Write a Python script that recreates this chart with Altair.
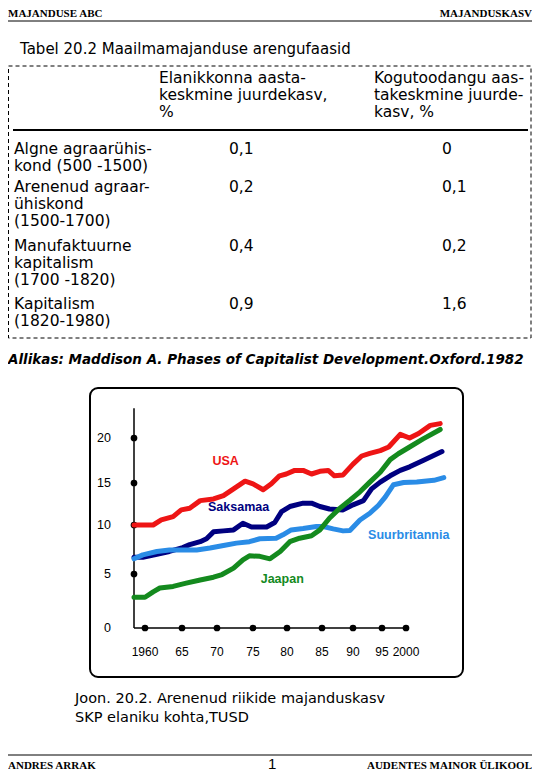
import altair as alt
import pandas as pd

# ---------------- texts ----------------
header_left = "MAJANDUSE ABC"
header_right = "MAJANDUSKASV"
table_title = "Tabel 20.2 Maailmamajanduse arengufaasid"
col_pop = "Elanikkonna aasta-\nkeskmine juurdekasv,\n%"
col_out = "Kogutoodangu aas-\ntakeskmine juurde-\nkasv, %"
source = "Allikas: Maddison A. Phases of Capitalist Development.Oxford.1982"
caption = "Joon. 20.2. Arenenud riikide majanduskasv\nSKP elaniku kohta,TUSD"
footer_left = "ANDRES ARRAK"
footer_mid = "1"
footer_right = "AUDENTES MAINOR ÜLIKOOL"

# ---------------- table data ----------------
phases = [
    "Algne agraarühis-\nkond (500 -1500)",
    "Arenenud agraar-\nühiskond\n(1500-1700)",
    "Manufaktuurne\nkapitalism\n(1700 -1820)",
    "Kapitalism\n(1820-1980)",
]
pop_growth = [0.1, 0.2, 0.4, 0.9]
output_growth = [0, 0.1, 0.2, 1.6]

# ---------------- chart data ----------------
usa_year = [1959.0, 1961.1, 1962.2, 1963.8, 1964.9, 1966.1, 1967.6, 1969.5, 1970.9, 1972.3,
            1973.9, 1975.0, 1976.5, 1977.7, 1978.9, 1979.9, 1981.1, 1982.3, 1983.5, 1984.7,
            1986.0, 1987.0, 1988.4, 1990.0, 1991.5, 1992.9, 1994.7, 1996.4, 1998.8, 2000.4,
            2001.4, 2002.7, 2003.8]
usa_val = [10.0, 10.0, 10.6, 11.0, 11.8, 12.0, 12.9, 13.1, 13.5, 14.3,
           15.2, 14.9, 14.2, 14.9, 15.8, 16.0, 16.4, 16.4, 16.0, 16.3,
           16.4, 15.8, 15.9, 17.1, 18.0, 18.3, 18.6, 19.0, 20.4, 20.0,
           20.5, 21.4, 21.6]

ger_year = [1959.0, 1959.8, 1961.6, 1963.3, 1965.1, 1966.1, 1967.6, 1968.5, 1969.5, 1970.9,
            1972.3, 1973.6, 1974.8, 1977.0, 1978.2, 1979.2, 1980.4, 1982.3, 1983.5, 1984.7,
            1986.2, 1988.4, 1990.0, 1991.8, 1993.2, 1994.7, 1996.7, 1998.8, 2000.4, 2001.9,
            2004.0]
ger_val = [6.7, 6.7, 7.0, 7.3, 7.7, 8.0, 8.3, 8.6, 9.3, 9.4,
           9.5, 10.2, 9.8, 9.8, 10.3, 11.6, 12.2, 12.6, 12.6, 12.2,
           11.9, 11.8, 12.4, 12.9, 14.3, 15.1, 15.8, 16.4, 16.8, 17.5,
           18.5]

gbr_year = [1959.0, 1959.8, 1961.6, 1963.3, 1965.1, 1967.1, 1969.0, 1970.9, 1972.7, 1974.5,
            1976.0, 1978.4, 1979.4, 1980.6, 1982.3, 1984.2, 1985.2, 1986.8, 1988.4, 1989.5,
            1991.2, 1992.9, 1994.4, 1995.7, 1997.4, 1999.5, 2001.2, 2003.1, 2004.2]
gbr_val = [6.55, 6.95, 7.3, 7.45, 7.45, 7.45, 7.65, 7.9, 8.15, 8.3,
           8.6, 8.65, 9.0, 9.5, 9.65, 9.85, 9.85, 9.6, 9.4, 9.45,
           10.6, 11.4, 12.35, 13.35, 14.8, 15.05, 15.1, 15.3, 15.6]

jpn_year = [1959.0, 1960.0, 1961.1, 1962.0, 1963.8, 1965.6, 1967.6, 1969.5, 1970.7, 1972.3,
            1973.6, 1974.5, 1976.0, 1977.5, 1979.0, 1980.4, 1981.8, 1983.5, 1984.7, 1986.2,
            1987.8, 1989.5, 1991.2, 1992.9, 1994.7, 1996.7, 1998.4, 2000.4, 2001.9, 2003.8]
jpn_val = [2.85, 2.85, 3.35, 3.7, 3.85, 4.15, 4.45, 4.7, 4.95, 5.6,
           6.45, 6.85, 6.8, 6.55, 7.3, 8.3, 8.65, 8.9, 9.5, 10.8,
           11.95, 12.95, 13.95, 15.1, 16.2, 17.6, 18.25, 19.0, 19.9, 20.95]

series_names = ["Saksamaa", "Suurbritannia", "USA", "Jaapan"]
series_colors = ["#000080", "#2a8ce6", "#ee1515", "#148a1e"]
series_data = [(ger_year, ger_val), (gbr_year, gbr_val), (usa_year, usa_val), (jpn_year, jpn_val)]

label_names = ["USA", "Saksamaa", "Suurbritannia", "Jaapan"]
label_year = [1971.2, 1973.0, 2000.3, 1979.3]
label_val = [17.4, 12.1, 9.0, 4.54]

x_ticks = [1960, 1965, 1970, 1975, 1980, 1985, 1990, 1995, 2000]
x_tick_labels = ["1960", "65", "70", "75", "80", "85", "90", "95", "2000"]
y_ticks = [0, 5, 10, 15, 20]
y_dot_vals = [5, 10, 15, 20]
x_axis_start, x_axis_end = 1959, 2000
y_axis_top = 23.3

# ---------------- styling ----------------
W, H = 524, 764
SANS = "DejaVu Sans"
ARIAL = "Liberation Sans"
SERIF = "Liberation Serif"

# hand-drawn, uneven axes of the original: piecewise linear scales
xs = alt.Scale(domain=[1959, 1960, 1965, 1970, 1975, 1980, 1985, 1990, 1995, 2000, 2004],
               range=[126, 137, 174, 209, 245, 279, 314, 345, 374, 398, 434],
               nice=False, zero=False)
ys = alt.Scale(domain=[0, 5, 10, 15, 20], range=[620, 566, 517, 475, 430],
               nice=False, zero=False)
tys = alt.Scale(domain=[0, 10], range=[133.5, 327.5], nice=False, zero=False)

one = pd.DataFrame({"t": [""]})


def txt(text, x, y, size, font=SANS, weight="normal", style="normal",
        align="left", color="black", line_height=17):
    return alt.Chart(pd.DataFrame({"t": [text]})).mark_text(
        font=font, fontSize=size, fontWeight=weight, fontStyle=style,
        align=align, baseline="top", color=color, lineBreak="\n",
        lineHeight=line_height,
    ).encode(x=alt.value(x), y=alt.value(y), text="t:N")


def hrule(x1, x2, y, width):
    return alt.Chart(one).mark_rule(color="black", strokeWidth=width).encode(
        x=alt.value(x1), x2=alt.value(x2), y=alt.value(y))


layers = []

# page header
layers.append(txt(header_left, 0, 0, 11, font=SERIF, weight="bold"))
layers.append(txt(header_right, W, 0, 11, font=SERIF, weight="bold", align="right"))
layers.append(hrule(0, W, 13, 1))

# table
layers.append(txt(table_title, 12, 33.5, 15))
layers.append(alt.Chart(one).mark_rect(
    fillOpacity=0, stroke="black", strokeWidth=1, strokeDash=[4, 3]
).encode(x=alt.value(0.5), x2=alt.value(523), y=alt.value(58), y2=alt.value(330)))
layers.append(txt(col_pop, 151, 62.5, 15.5))
layers.append(txt(col_out, 366, 62.5, 15.5))
layers.append(hrule(5, 520, 122, 2))

starts, acc = [], 0
for p in phases:
    starts.append(acc)
    acc += p.count("\n") + 1


def fmt(v):
    return str(v).replace(".", ",")


tbl = pd.DataFrame({
    "phase": phases,
    "pop": [fmt(v) for v in pop_growth],
    "out": [fmt(v) for v in output_growth],
    "line": starts,
})
tbase = alt.Chart(tbl).mark_text(font=SANS, fontSize=15.5, align="left", baseline="top",
                                 lineBreak="\n", lineHeight=17, color="black")
layers.append(tbase.encode(x=alt.value(6), y=alt.Y("line:Q", scale=tys, axis=None), text="phase:N"))
layers.append(tbase.encode(x=alt.value(221), y=alt.Y("line:Q", scale=tys, axis=None), text="pop:N"))
layers.append(tbase.encode(x=alt.value(434), y=alt.Y("line:Q", scale=tys, axis=None), text="out:N"))

layers.append(txt(source, 0, 345, 13.5, font=SANS, weight="bold", style="italic"))

# chart frame
layers.append(alt.Chart(one).mark_rect(
    fillOpacity=0, stroke="black", strokeWidth=2, cornerRadius=8
).encode(x=alt.value(82), x2=alt.value(455), y=alt.value(380), y2=alt.value(669)))

X = lambda f="year": alt.X(f"{f}:Q", scale=xs, axis=None)
Y = lambda f="value": alt.Y(f"{f}:Q", scale=ys, axis=None)

# axes drawn from data
layers.append(alt.Chart(pd.DataFrame({"year": [x_axis_start], "value": [0], "value2": [y_axis_top]}))
              .mark_rule(color="black", strokeWidth=1.5)
              .encode(x=X(), y=Y(), y2="value2:Q"))
layers.append(alt.Chart(pd.DataFrame({"year": [x_axis_start], "year2": [x_axis_end], "value": [0]}))
              .mark_rule(color="black", strokeWidth=1.5)
              .encode(x=X(), x2="year2:Q", y=Y()))
layers.append(alt.Chart(pd.DataFrame({"year": x_ticks, "value": [0] * len(x_ticks)}))
              .mark_circle(size=45, color="black", opacity=1)
              .encode(x=X(), y=Y()))
layers.append(alt.Chart(pd.DataFrame({"year": [x_axis_start] * len(y_dot_vals), "value": y_dot_vals}))
              .mark_circle(size=45, color="black", opacity=1)
              .encode(x=X(), y=Y()))
layers.append(alt.Chart(pd.DataFrame({"value": y_ticks, "lab": [str(v) for v in y_ticks]}))
              .mark_text(font=ARIAL, fontSize=12.5, align="right", baseline="middle", color="black")
              .encode(x=alt.value(103), y=Y(), text="lab:N"))
layers.append(alt.Chart(pd.DataFrame({"year": x_ticks, "lab": x_tick_labels}))
              .mark_text(font=ARIAL, fontSize=12, align="center", baseline="middle", color="black")
              .encode(x=X(), y=alt.value(644), text="lab:N"))

# series lines
for name, color, (yr, vals) in zip(series_names, series_colors, series_data):
    df = pd.DataFrame({"year": yr, "value": vals})
    layers.append(alt.Chart(df).mark_line(color=color, strokeWidth=5, strokeCap="round",
                                          strokeJoin="round")
                  .encode(x=X(), y=Y()))

# series labels
lab_df = pd.DataFrame({"name": label_names, "year": label_year, "value": label_val})
layers.append(alt.Chart(lab_df).mark_text(font=ARIAL, fontSize=12.5, fontWeight="bold",
                                          align="center", baseline="middle")
              .encode(x=X(), y=Y(), text="name:N",
                      color=alt.Color("name:N", scale=alt.Scale(domain=series_names,
                                                                range=series_colors),
                                      legend=None)))

# caption and footer
layers.append(txt(caption, 67, 684, 14.5, line_height=19))
layers.append(hrule(0, W, 747, 1))
layers.append(txt(footer_left, 0, 752, 11, font=SERIF, weight="bold"))
layers.append(txt(footer_mid, 260, 749, 15, font=ARIAL))
layers.append(txt(footer_right, W, 752, 11, font=SERIF, weight="bold", align="right"))

chart = alt.layer(*layers).resolve_scale(y="independent").properties(
    width=W, height=H, autosize=alt.AutoSizeParams(type="none"), padding=0
).configure_view(stroke=None)

chart.save("out.html", embed_options={"renderer": "svg", "actions": False})
